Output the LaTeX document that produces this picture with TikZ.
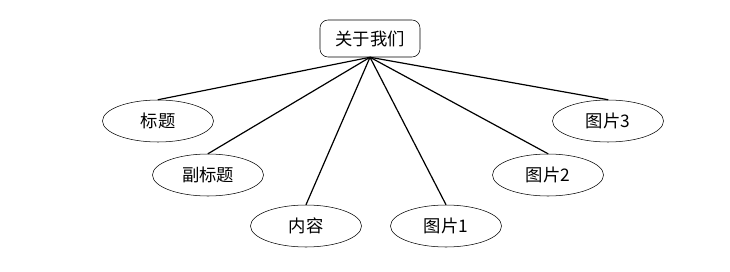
\documentclass[tikz,border=0pt]{standalone}
\usepackage{fontspec}
\setmainfont{Noto Sans CJK SC}
\usepackage{tikz}
\usetikzlibrary{positioning,shapes}

\begin{document}
\begin{tikzpicture}[
    x=0.75pt, y=-0.75pt,
    font=\fontsize{13}{15}\selectfont,
    rootbox/.style={rectangle, draw, rounded corners=6pt, minimum width=75pt, minimum height=27.75pt, align=center},
    item/.style={ellipse, draw, minimum width=83.25pt, minimum height=31.5pt, inner sep=0pt, align=center},
    link/.style={draw, line width=0.9pt},
]
\useasboundingbox (0,0) rectangle (730,271);

% Top: page
\node[rootbox] (about) at (370,38.5) {关于我们};

% Left side
\node[item] (title) at (158,121) {标题};
\node[item] (subtitle) at (208,175) {副标题};
\node[item] (content) at (306,226) {内容};

% Right side
\node[item] (pic1) at (446,226) {图片1};
\node[item] (pic2) at (548,175) {图片2};
\node[item] (pic3) at (608,121) {图片3};

% Links
\foreach \n in {title,subtitle,content,pic1,pic2,pic3}
    \draw[link] (about.south) -- (\n.north);

\end{tikzpicture}
\end{document}
